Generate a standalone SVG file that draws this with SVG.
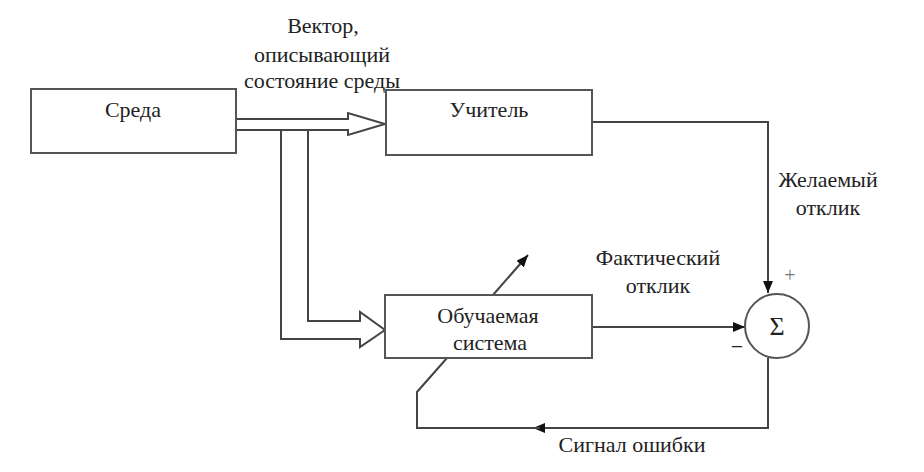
<svg xmlns="http://www.w3.org/2000/svg" width="924" height="472" viewBox="0 0 924 472">
<defs>
<marker id="ah" viewBox="0 0 12 10" refX="12" refY="5" markerWidth="12" markerHeight="10" markerUnits="userSpaceOnUse" orient="auto">
<path d="M0,0 L12,5 L0,10 Z" fill="#111"/>
</marker>
</defs>
<style>
.box{fill:#fff;stroke:#555;stroke-width:2}
.ln{fill:none;stroke:#444;stroke-width:2}
.t{font-family:"Liberation Serif","Times New Roman",serif;font-size:22px;fill:#222;text-anchor:middle}
</style>
<rect width="924" height="472" fill="#fff"/>
<g id="connectors">
<path class="ln" d="M236,119 H348 V113 L385,124 L348,135 V130 H236"/>
<path class="ln" d="M281,130 V339 H360 V347 L385,330 L360,312 V321 H308 V130"/>
<path class="ln" d="M592,122 H768 V293" marker-end="url(#ah)"/>
<path class="ln" d="M592,327 H745" marker-end="url(#ah)"/>
<path class="ln" d="M493,295 L528,255" marker-end="url(#ah)"/>
<path class="ln" d="M768,358 V428 H533" marker-end="url(#ah)"/>
<path class="ln" d="M540,428 H417 V392 L447,358"/>
</g>
<g id="sreda">
<rect class="box" x="31" y="89" width="205" height="64"/>
<text class="t" x="133" y="117">Среда</text>
</g>
<g id="uchitel">
<rect class="box" x="386" y="90" width="206" height="65"/>
<text class="t" x="489" y="117">Учитель</text>
</g>
<g id="obuch">
<rect class="box" x="385" y="295" width="207" height="63"/>
<text class="t" x="488" y="323">Обучаемая</text>
<text class="t" x="490" y="350">система</text>
</g>
<g id="sum">
<circle cx="777" cy="326" r="32" fill="#fff" stroke="#555" stroke-width="2"/>
<text class="t" x="777" y="335" style="font-size:26px">Σ</text>
<text class="t" x="790" y="282" style="font-size:20px;fill:#777">+</text>
<text class="t" x="737" y="354" style="font-size:22px">−</text>
</g>
<g id="labels">
<text class="t" x="323" y="33">Вектор,</text>
<text class="t" x="322" y="62">описывающий</text>
<text class="t" x="322" y="88">состояние среды</text>
<text class="t" x="828" y="187">Желаемый</text>
<text class="t" x="828" y="215">отклик</text>
<text class="t" x="658" y="265">Фактический</text>
<text class="t" x="658" y="293">отклик</text>
<text class="t" x="632" y="452">Сигнал ошибки</text>
</g>
</svg>
